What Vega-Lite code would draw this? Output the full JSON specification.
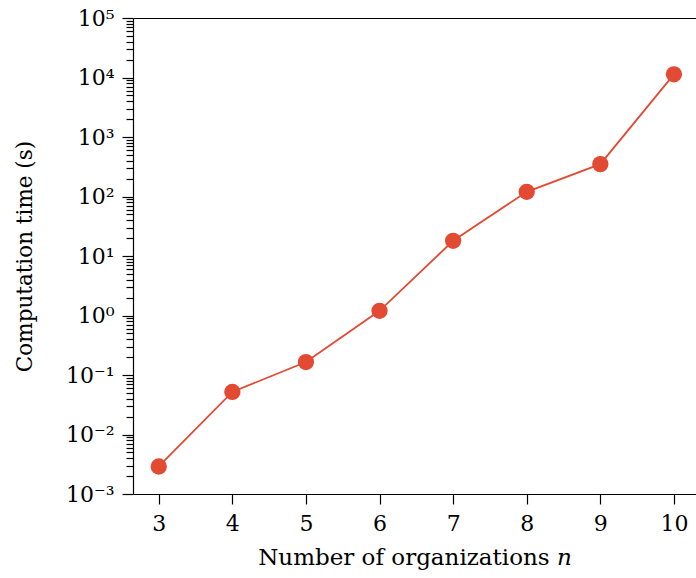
{
  "$schema": "https://vega.github.io/schema/vega-lite/v6.json",
  "autosize": "none",
  "padding": {"left": 133, "top": 18, "right": 0, "bottom": 84},
  "width": 563,
  "height": 476,
  "background": "white",
  "config": {
    "view": {"stroke": null},
    "axis": {
      "labelFont": "DejaVu Serif",
      "titleFont": "DejaVu Serif",
      "labelFontSize": 22,
      "titleFontSize": 23,
      "titleFontWeight": "normal",
      "labelColor": "black",
      "titleColor": "black",
      "domainColor": "black",
      "tickColor": "black",
      "domainWidth": 1.2,
      "tickWidth": 1.2,
      "grid": false
    }
  },
  "data": {
    "values": [
      {"n": 3, "t": 0.0029},
      {"n": 4, "t": 0.052},
      {"n": 5, "t": 0.165},
      {"n": 6, "t": 1.2},
      {"n": 7, "t": 18},
      {"n": 8, "t": 120},
      {"n": 9, "t": 350},
      {"n": 10, "t": 11300}
    ]
  },
  "layer": [
    {
      "mark": {"type": "line", "color": "#E24A33", "strokeWidth": 1.8, "clip": false},
      "encoding": {
        "x": {
          "field": "n", "type": "quantitative",
          "scale": {"domain": [2.65, 10.3], "nice": false, "zero": false},
          "axis": {
            "orient": "bottom",
            "values": [3, 4, 5, 6, 7, 8, 9, 10],
            "format": "d",
            "tickSize": 10,
            "labelPadding": 9,
            "title": "Number of organizations 𝑛",
            "titlePadding": 12
          }
        },
        "y": {
          "field": "t", "type": "quantitative",
          "scale": {"type": "log", "domain": [0.001, 100000], "nice": false},
          "axis": {
            "values": [0.001,0.002,0.003,0.004,0.005,0.006,0.007,0.008,0.009,
                       0.01,0.02,0.03,0.04,0.05,0.06,0.07,0.08,0.09,
                       0.1,0.2,0.3,0.4,0.5,0.6,0.7,0.8,0.9,
                       1,2,3,4,5,6,7,8,9,
                       10,20,30,40,50,60,70,80,90,
                       100,200,300,400,500,600,700,800,900,
                       1000,2000,3000,4000,5000,6000,7000,8000,9000,
                       10000,20000,30000,40000,50000,60000,70000,80000,90000,
                       100000],
            "labelExpr": "abs(log(datum.value)/LN10 - round(log(datum.value)/LN10)) < 0.001 ? '10' + ['⁻³','⁻²','⁻¹','⁰','¹','²','³','⁴','⁵'][round(log(datum.value)/LN10)+3] : ''",
            "labelOverlap": false,
            "labelBound": false,
            "labelFlush": false,
            "labelPadding": 8,
            "tickSize": {"condition": {"test": "abs(log(datum.value)/LN10 - round(log(datum.value)/LN10)) < 0.001", "value": 11}, "value": 7},
            "title": "Computation time (s)",
            "titleFontSize": 21.5,
            "titlePadding": 29
          }
        }
      }
    },
    {
      "mark": {"type": "point", "filled": true, "opacity": 1, "color": "#E24A33", "size": 265, "clip": false},
      "encoding": {
        "x": {
          "field": "n", "type": "quantitative",
          "axis": {"orient": "top", "labels": false, "ticks": false, "title": null}
        },
        "y": {"field": "t", "type": "quantitative"}
      }
    }
  ],
  "resolve": {"axis": {"x": "independent"}}
}
